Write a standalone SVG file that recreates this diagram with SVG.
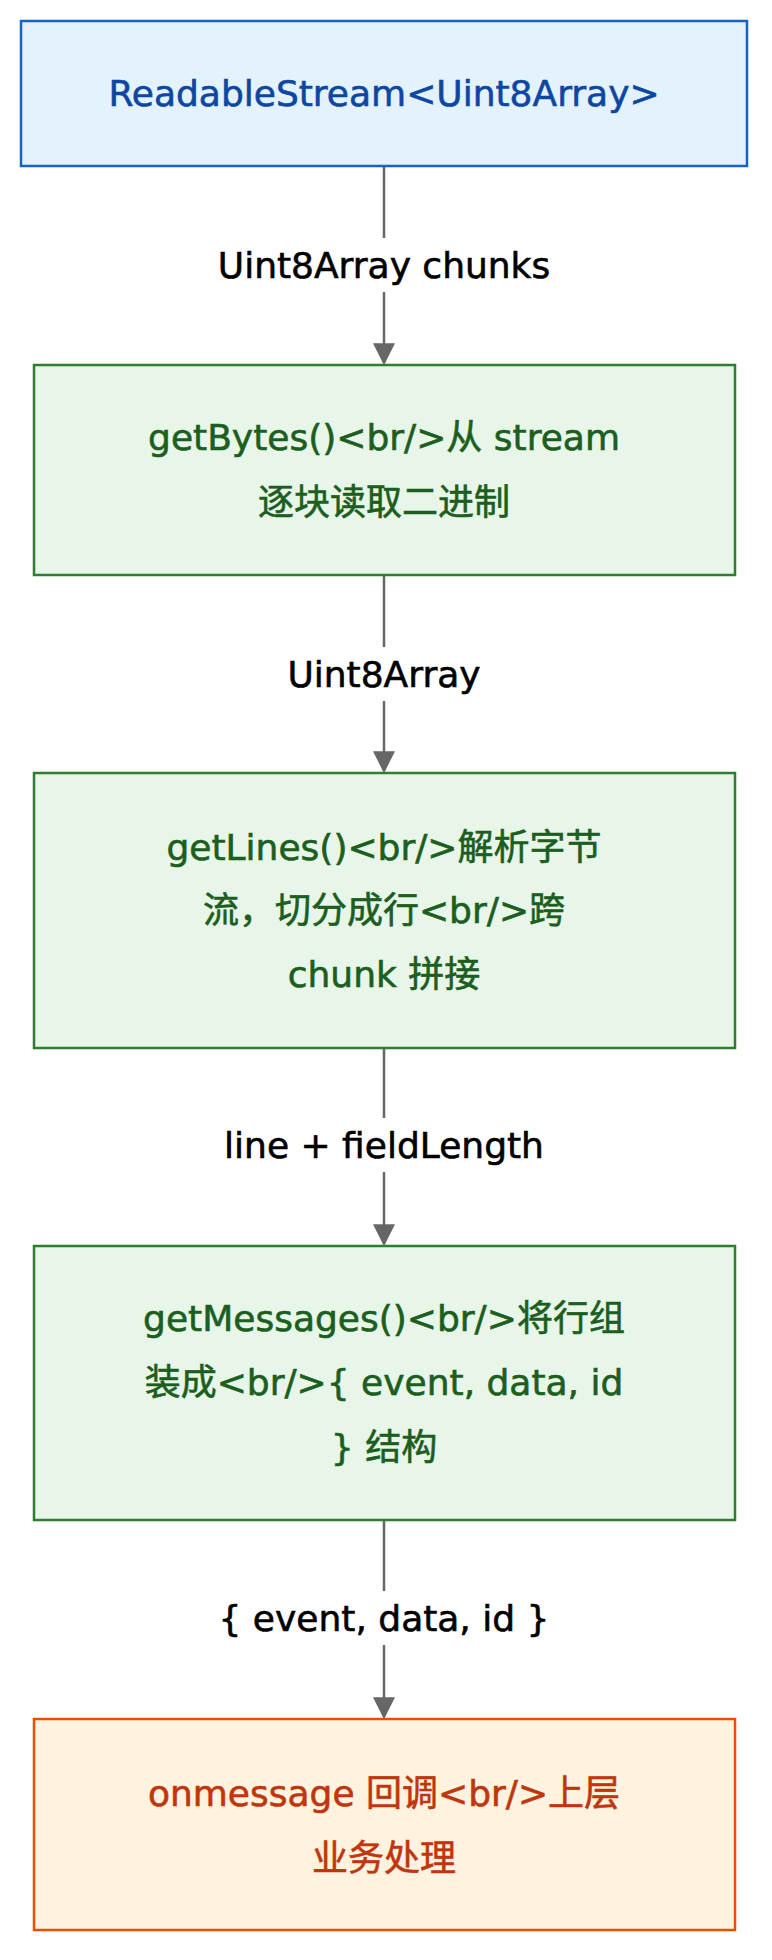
<svg xmlns="http://www.w3.org/2000/svg" width="772" height="1960" viewBox="0 0 772 1960">
<style>
text{font-family:"DejaVu Sans","Noto Sans CJK SC",sans-serif;font-size:36px;text-anchor:middle;dominant-baseline:central;stroke-width:0.6}
.blue rect{fill:#e3f2fd;stroke:#1565c0;stroke-width:2.5}
.blue text{fill:#0d47a1;stroke:#0d47a1}
.green rect{fill:#e8f5e9;stroke:#2e7d32;stroke-width:2.5}
.green text{fill:#1b5e20;stroke:#1b5e20}
.orange rect{fill:#fff3e0;stroke:#e65100;stroke-width:2.5}
.orange text{fill:#bf360c;stroke:#bf360c}
.edge{stroke:#666;stroke-width:2.5;fill:none}
.lbl{fill:#000;stroke:#000}
</style>
<defs><marker id="a" viewBox="0 0 10 10" refX="9" refY="5" markerWidth="22" markerHeight="22" markerUnits="userSpaceOnUse" orient="auto"><path d="M0,0L10,5L0,10z" fill="#666"/></marker></defs>
<rect width="772" height="1960" fill="#fff"/>
<g id="connectors">
<path class="edge" d="M384,166V363" marker-end="url(#a)"/>
<path class="edge" d="M384,575V771" marker-end="url(#a)"/>
<path class="edge" d="M384,1048V1244" marker-end="url(#a)"/>
<path class="edge" d="M384,1520V1717" marker-end="url(#a)"/>
<rect x="180" y="238" width="410" height="54" fill="#fff"/>
<text class="lbl" x="384" y="265">Uint8Array chunks</text>
<rect x="260" y="647" width="250" height="54" fill="#fff"/>
<text class="lbl" x="384" y="674">Uint8Array</text>
<rect x="180" y="1118" width="410" height="54" fill="#fff"/>
<text class="lbl" x="384" y="1145">line + fieldLength</text>
<rect x="190" y="1591" width="390" height="54" fill="#fff"/>
<text class="lbl" x="384" y="1618">{ event, data, id }</text>
</g>
<g id="n1" class="blue"><rect x="21" y="21" width="726" height="145"/><text x="384" y="93">ReadableStream&lt;Uint8Array&gt;</text></g>
<g id="n2" class="green"><rect x="34" y="365" width="701" height="210"/><text x="384" y="437">getBytes()&lt;br/&gt;从 stream</text><text x="384" y="502">逐块读取二进制</text></g>
<g id="n3" class="green"><rect x="34" y="773" width="701" height="275"/><text x="384" y="847">getLines()&lt;br/&gt;解析字节</text><text x="384" y="910">流，切分成行&lt;br/&gt;跨</text><text x="384" y="974">chunk 拼接</text></g>
<g id="n4" class="green"><rect x="34" y="1246" width="701" height="274"/><text x="384" y="1318">getMessages()&lt;br/&gt;将行组</text><text x="384" y="1382">装成&lt;br/&gt;{ event, data, id</text><text x="384" y="1447">} 结构</text></g>
<g id="n5" class="orange"><rect x="34" y="1719" width="701" height="211"/><text x="384" y="1793">onmessage 回调&lt;br/&gt;上层</text><text x="384" y="1858">业务处理</text></g>
</svg>
